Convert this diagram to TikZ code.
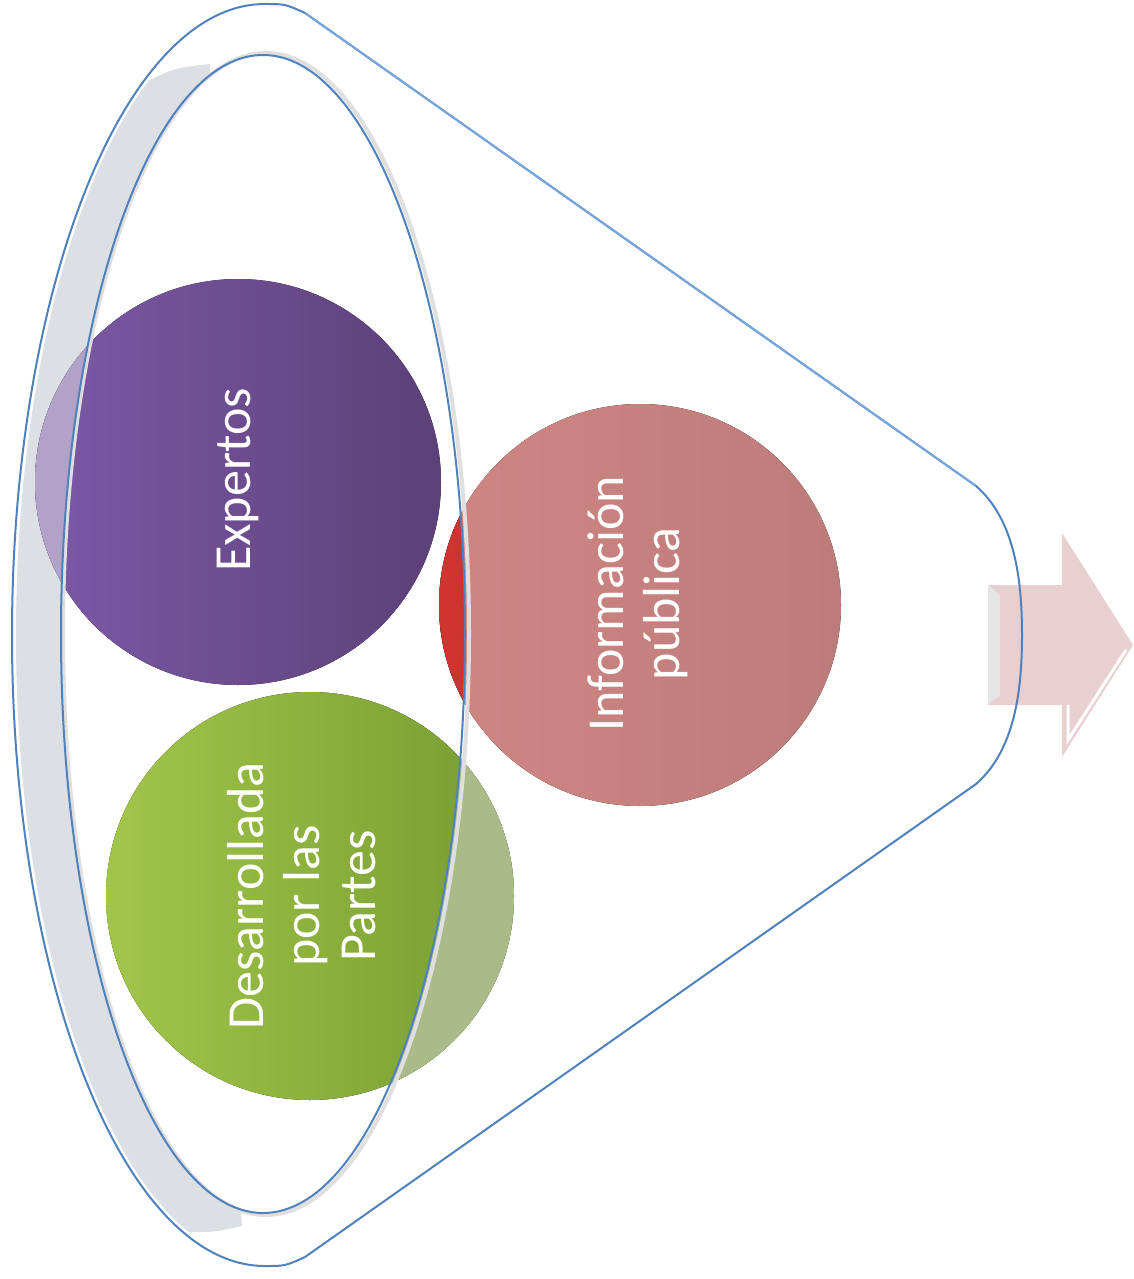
\documentclass[tikz,border=0pt]{standalone}
\usepackage{fontspec}
\setmainfont{Carlito}
\usetikzlibrary{positioning}
\definecolor{funnelblue}{RGB}{79,129,189}
\definecolor{rimblue}{RGB}{120,165,220}
\definecolor{bandgray}{RGB}{220,223,228}
\definecolor{purpleL}{RGB}{125,89,167}
\definecolor{purpleR}{RGB}{92,64,120}
\definecolor{purplefade}{RGB}{178,162,200}
\definecolor{pinkL}{RGB}{207,134,131}
\definecolor{pinkR}{RGB}{188,124,122}
\definecolor{redL}{RGB}{224,70,62}
\definecolor{redR}{RGB}{205,52,46}
\definecolor{greenL}{RGB}{162,198,74}
\definecolor{greenR}{RGB}{118,156,50}
\definecolor{greenfade}{RGB}{170,186,136}
\definecolor{arrowpink}{RGB}{233,208,208}
\newcommand{\mouth}{(263,634) ellipse [x radius=202, y radius=579]}
\newcommand{\outside}{(-10,-10) rectangle (1150,1290) \mouth}

\begin{document}
\begin{tikzpicture}[x=0.5pt, y=-0.5pt,
	circletext/.style={text=white, rotate=90, align=center,
		font=\fontsize{26}{28}\selectfont},
	funnelline/.style={draw=funnelblue, line width=1pt}]

	\useasboundingbox (0,0) rectangle (1134,1279);

	% arrow leaving the funnel
	\fill[arrowpink] (988,585) -- (1062,585) -- (1062,533) -- (1133,645)
		-- (1062,757) -- (1062,705) -- (988,705) -- cycle;
	\fill[gray!20] (988,585) -- (1000,595) -- (1000,695) -- (988,705) -- cycle;
	\draw[white, line width=1.5pt] (1126,650) -- (1068,740) -- (1068,705);

	% grey band of the rim
	\begin{scope}
		\clip (0,82) -- (150,80) .. controls (175,68) .. (210,64) -- (210,640)
			-- (242,1226) .. controls (215,1232) .. (190,1232) -- (0,1232) -- cycle;
		\fill[bandgray, even odd rule] (265,635) ellipse [x radius=249, y radius=627] \mouth;
	\end{scope}

	% circles
	\fill[left color=purpleL, right color=purpleR] (238,482) circle [radius=203];
	\fill[left color=pinkL, right color=pinkR] (640,605) circle [radius=201];
	\fill[left color=greenL, right color=greenR] (310,896) circle [radius=204];

	% parts seen through the funnel
	\begin{scope}
		\clip (238,482) circle [radius=203];
		\fill[purplefade, even odd rule] \outside;
	\end{scope}
	\begin{scope}
		\clip (640,605) circle [radius=201];
		\fill[left color=redL, right color=redR] \mouth;
	\end{scope}
	\begin{scope}
		\clip (310,896) circle [radius=204];
		\fill[greenfade, even odd rule] \outside;
	\end{scope}

	\node[circletext] (expertos) at (238,480) {Expertos};
	\node[circletext] (info) at (638,604) {Información\\pública};
	\node[circletext] (partes) at (302,896) {Desarrollada\\por las\\Partes};

	% funnel
	\draw[gray!25, line width=2pt] (266,634) ellipse [x radius=203, y radius=581];
	\draw[funnelline] \mouth;
	\draw[funnelline] (265,4) arc [start angle=270, end angle=90, x radius=253, y radius=631]
		.. controls (285,1266) .. (305,1257) -- (976,784)
		.. controls (1015,750) and (1022,690) .. (1022,635)
		.. controls (1022,580) and (1015,520) .. (976,486)
		-- (305,13) .. controls (285,4) .. (265,4);
	\draw[rimblue, line width=1pt] (305,13) -- (976,486);

\end{tikzpicture}
\end{document}
